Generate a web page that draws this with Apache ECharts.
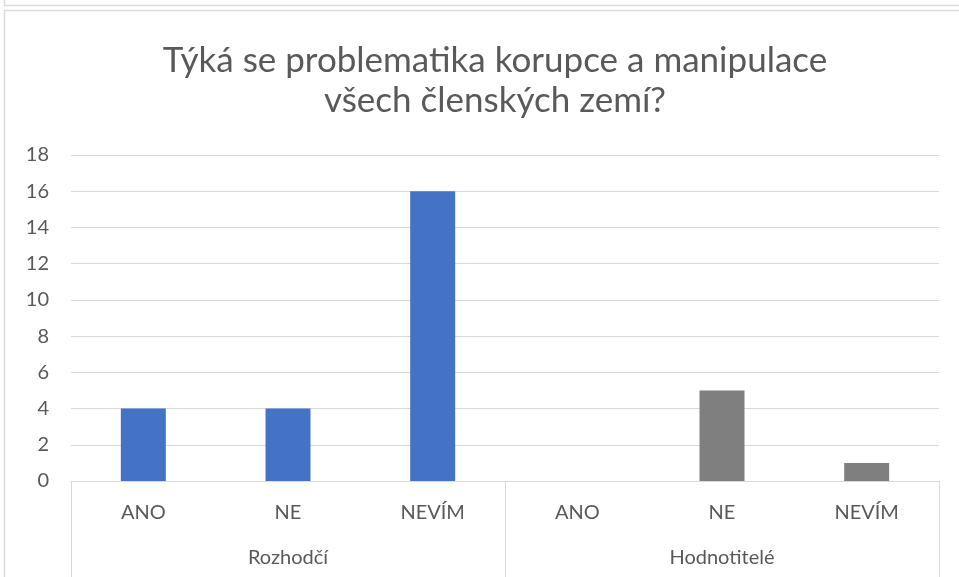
<!DOCTYPE html>
<html><head><meta charset="utf-8">
<script src="https://cdn.jsdelivr.net/npm/echarts@6/dist/echarts.min.js"></script>
<style>html,body{margin:0;padding:0;background:#fff}#c{width:959px;height:577px}</style>
</head><body><div id="c"></div>
<script>
const titleLines = ['Týká se problematika korupce a manipulace', 'všech členských zemí?'];
const answers = ['ANO', 'NE', 'NEVÍM'];
const groups = ['Rozhodčí', 'Hodnotitelé'];
const rozhodci = [4, 4, 16];
const hodnotitele = [0, 5, 1];
const yTicks = [0, 2, 4, 6, 8, 10, 12, 14, 16, 18];

const cats = groups.flatMap(() => answers);
const s1 = cats.map((_, i) => i < answers.length ? rozhodci[i] : '-');
const s2 = cats.map((_, i) => i >= answers.length ? hodnotitele[i - answers.length] : '-');
const FONT = 'Lato';
const chart = echarts.init(document.getElementById('c'));
chart.setOption({
  animation: false,
  textStyle: { fontFamily: FONT },
  title: {
    text: titleLines.join('\n'), left: 490, top: 36, textAlign: 'center',
    textStyle: { fontFamily: FONT, fontSize: 35, fontWeight: 'normal', color: '#595959', lineHeight: 40 }
  },
  graphic: [
    { type: 'rect', shape: { x: 4.5, y: -10, width: 1000, height: 15.5 }, style: { fill: 'none', stroke: '#d9d9d9', lineWidth: 1.5 } },
    { type: 'rect', shape: { x: 4.5, y: 10.5, width: 1000, height: 1000 }, style: { fill: 'none', stroke: '#d9d9d9', lineWidth: 1.5 } }
  ],
  grid: { left: 71, right: 20, top: 155, bottom: 96 },
  xAxis: [
    { type: 'category', data: cats, position: 'bottom',
      axisLine: { show: true, lineStyle: { color: '#d9d9d9', width: 1 } },
      axisTick: { show: false },
      axisLabel: { color: '#595959', fontSize: 20, margin: 22, fontFamily: FONT } },
    { type: 'category', data: groups, position: 'bottom', gridIndex: 0,
      axisLine: { show: false },
      axisTick: { show: true, length: 100, lineStyle: { color: '#d9d9d9', width: 1 } },
      axisLabel: { color: '#595959', fontSize: 20, margin: 67, fontFamily: FONT } }
  ],
  yAxis: {
    type: 'value', min: yTicks[0], max: yTicks[yTicks.length - 1], interval: 2,
    axisLine: { show: false }, axisTick: { show: false },
    axisLabel: { color: '#595959', fontSize: 20, margin: 22, fontFamily: FONT },
    splitLine: { lineStyle: { color: '#d9d9d9', width: 1 } }
  },
  series: [
    { type: 'bar', name: groups[0], stack: 'a', data: s1, barWidth: 45, itemStyle: { color: '#4472C4' }, xAxisIndex: 0 },
    { type: 'bar', name: groups[1], stack: 'a', data: s2, barWidth: 45, itemStyle: { color: '#7F7F7F' }, xAxisIndex: 0 }
  ]
});
</script></body></html>
